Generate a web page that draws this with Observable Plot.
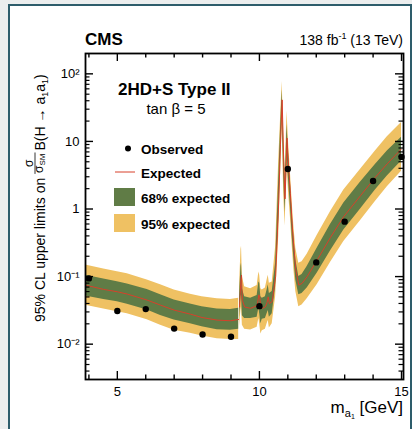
<!DOCTYPE html>
<html><head><meta charset="utf-8">
<script src="https://cdn.jsdelivr.net/npm/d3@7"></script>
<script src="https://cdn.jsdelivr.net/npm/@observablehq/plot@0.6"></script>
<style>
html,body{margin:0;padding:0;background:#eceeee;width:412px;height:429px;overflow:hidden}
#frame{position:absolute;left:8px;top:4px;width:400px;height:440px;border:2px solid #2e5d6b;background:#fff;}
#chart{position:absolute;left:0;top:0}
</style></head><body><div id="frame"></div><div id="chart"></div>
<script>
// ---- data ----
const mass = [3.88,4.52,5.0,5.35,6.05,6.52,7.0,7.57,7.98,8.51,8.98,9.27, NaN,
  9.30,9.35,9.37,9.40,9.48,9.69,9.92,9.98,10.01,10.05,10.10,10.21,10.27,10.31,10.35,10.45,
  10.57,10.68,10.74,10.80,10.85,10.90,10.94,10.97,11.03,11.09,11.15,11.21,11.28,11.385,11.50,11.68,
  12.03,12.50,12.97,13.56,14.08,14.50,15.0];
const expected = [0.0748,0.0646,0.0596,0.0551,0.0449,0.0378,0.0319,0.0278,0.0248,0.0227,0.0222,0.0232, NaN,
  0.0355,0.0891,0.105,0.0447,0.0355,0.0339,0.0372,0.0537,0.0501,0.0355,0.0339,0.0355,0.0417,0.0501,0.0398,0.0427,
  0.100,1.35,8.91,41.2,6.31,1.41,3.98,11.2,3.98,1.70,0.617,0.275,0.126,0.0748,0.0794,0.100,
  0.175,0.380,0.776,1.58,2.95,4.68,7.76];
const lo68 = [0.0514,0.0457,0.0424,0.0389,0.0319,0.0266,0.0227,0.0200,0.0181,0.0164,0.0161,0.0166, NaN,
  0.0251,0.0501,0.0537,0.0263,0.0240,0.0240,0.0251,0.0339,0.0282,0.0200,0.0234,0.0240,0.0282,0.0316,0.0251,0.0282,
  0.0708,0.708,5.01,28.2,3.55,0.891,2.51,7.08,2.51,1.12,0.417,0.191,0.0891,0.0537,0.0562,0.0676,
  0.112,0.240,0.490,1.00,1.91,3.09,5.13];
const hi68 = [0.105,0.0923,0.0838,0.0776,0.0646,0.0537,0.0449,0.0394,0.0357,0.0331,0.0327,0.0339, NaN,
  0.0501,0.141,0.158,0.0661,0.0501,0.0479,0.0525,0.0832,0.0794,0.0501,0.0479,0.0501,0.0631,0.0759,0.0562,0.0603,
  0.158,2.82,14.1,57.5,10.0,2.24,6.31,17.8,6.03,2.51,0.891,0.398,0.178,0.100,0.107,0.141,
  0.263,0.589,1.23,2.51,4.57,7.24,11.5];
const lo95 = [0.0378,0.0331,0.0302,0.0282,0.0229,0.0191,0.0161,0.0145,0.0132,0.0120,0.0117,0.0117, NaN,
  0.0182,0.0316,0.0355,0.0191,0.0166,0.0162,0.0178,0.0240,0.0200,0.0141,0.0158,0.0166,0.0200,0.0224,0.0174,0.0200,
  0.0501,0.398,2.82,17.8,2.00,0.562,1.58,4.47,1.66,0.759,0.302,0.132,0.0603,0.0357,0.0380,0.0468,
  0.0759,0.162,0.331,0.676,1.29,2.14,3.63];
const hi95 = [0.148,0.130,0.118,0.110,0.0887,0.0759,0.0631,0.0550,0.0501,0.0468,0.0459,0.0479, NaN,
  0.0708,0.251,0.282,0.100,0.0708,0.0661,0.0741,0.117,0.105,0.0661,0.0631,0.0676,0.0891,0.105,0.0794,0.0832,
  0.275,5.37,20.0,76.9,15.8,3.55,10.0,28.2,8.91,3.55,1.32,0.575,0.263,0.157,0.166,0.214,
  0.407,0.912,1.91,3.89,7.24,11.7,19.1];
const obsMass = [4,5,6,7,8,9,10,11,12,13,14,15];
const observed = [0.094,0.031,0.033,0.017,0.0139,0.0129,0.0365,3.9,0.162,0.65,2.6,5.9];

const xMajor = [5,10,15];
const xMinor = [4,6,7,8,9,11,12,13,14];
const yMajor = [0.01,0.1,1,10,100];
const yTickLabels = ["10\u207B\u00B2","10\u207B\u00B9","1","10","10\u00B2"];
const yMinor = [0.004,0.005,0.006,0.007,0.008,0.009,0.02,0.03,0.04,0.05,0.06,0.07,0.08,0.09,
  0.2,0.3,0.4,0.5,0.6,0.7,0.8,0.9,2,3,4,5,6,7,8,9,20,30,40,50,60,70,80,90];

const legendLabels = ["Observed","Expected","68% expected","95% expected"];
const YELLOW = "#efc163", GREEN = "#607c46", RED = "#d8402a";

// ---- build ----
const band = mass.map((m,i)=>({m, exp:expected[i], lo68:lo68[i], hi68:hi68[i], lo95:lo95[i], hi95:hi95[i]}));
const obs = obsMass.map((m,i)=>({m, v:observed[i]}));

const W=412, H=429, mT=53, mB=50, mL=85, mR=9;
const PW=W-mL-mR, PH=H-mT-mB;
const font = "'Liberation Sans', Arial, Helvetica, sans-serif";

const svgNode = Plot.plot({
  width: W, height: H, marginTop: mT, marginBottom: mB, marginLeft: mL, marginRight: mR,
  style: {background:"transparent", fontFamily: font, fontSize:"13px", color:"black", overflow:"visible"},
  x: {domain:[3.88,15.07]},
  y: {type:"log", domain:[0.003,200]},
  marks: [
    Plot.areaY(band, {x:"m", y1:"lo95", y2:"hi95", fill:YELLOW}),
    Plot.areaY(band, {x:"m", y1:"lo68", y2:"hi68", fill:GREEN}),
    Plot.lineY(band, {x:"m", y:"exp", stroke:RED, strokeWidth:1}),
    Plot.dot(obs, {x:"m", y:"v", r:3.2, fill:"black"}),
    Plot.tickX(xMajor, {x:d=>d, insetTop:PH-8, stroke:"black", strokeWidth:1.4}),
    Plot.tickX(xMajor, {x:d=>d, insetBottom:PH-8, stroke:"black", strokeWidth:1.4}),
    Plot.tickX(xMinor, {x:d=>d, insetTop:PH-4.5, stroke:"black", strokeWidth:1.4}),
    Plot.tickX(xMinor, {x:d=>d, insetBottom:PH-4.5, stroke:"black", strokeWidth:1.4}),
    Plot.tickY(yMajor, {y:d=>d, insetRight:PW-8, stroke:"black", strokeWidth:1.4}),
    Plot.tickY(yMajor, {y:d=>d, insetLeft:PW-8, stroke:"black", strokeWidth:1.4}),
    Plot.tickY(yMinor, {y:d=>d, insetRight:PW-4.5, stroke:"black", strokeWidth:1.2}),
    Plot.tickY(yMinor, {y:d=>d, insetLeft:PW-4.5, stroke:"black", strokeWidth:1.2}),
    Plot.frame({stroke:"black", strokeWidth:1.8}),
    Plot.axisX({ticks:xMajor, tickSize:0, tickPadding:7, tickFormat:d=>String(d), label:null, fontSize:13}),
    Plot.axisY({ticks:yMajor, tickSize:0, tickPadding:6, tickFormat:d=>yTickLabels[yMajor.indexOf(d)], label:null, fontSize:13})
  ]
});
document.getElementById("chart").appendChild(svgNode);

const svg = d3.select(svgNode);
function txt(x,y,s,opts={}){
  const t = svg.append("text").attr("x",x).attr("y",y).attr("font-family",font)
    .attr("font-size",opts.size||13).attr("fill","black").attr("text-anchor",opts.anchor||"start").text(s);
  if(opts.bold) t.attr("font-weight","bold");
  return t;
}
// header
txt(85,45,"CMS",{size:17,bold:true});
const lumi = txt(403,45,"138 fb",{size:14,anchor:"end"});
lumi.append("tspan").attr("dy",-6).attr("font-size",9).text("-1");
lumi.append("tspan").attr("dy",6).attr("font-size",14).text(" (13 TeV)");
// model text
txt(118,95,"2HD+S Type II",{size:17,bold:true});
txt(176,114,"tan \u03B2 = 5",{size:15,anchor:"middle"});
// legend
svg.append("circle").attr("cx",128).attr("cy",148.5).attr("r",3).attr("fill","black");
txt(141,153.5,legendLabels[0],{size:13.5,bold:true});
svg.append("line").attr("x1",115).attr("x2",135).attr("y1",172).attr("y2",172).attr("stroke",RED).attr("stroke-width",1);
txt(141,177.5,legendLabels[1],{size:13.5,bold:true});
svg.append("rect").attr("x",114).attr("y",188).attr("width",21).attr("height",18).attr("fill",GREEN);
txt(141,203,legendLabels[2],{size:13.5,bold:true});
svg.append("rect").attr("x",114).attr("y",214).attr("width",21).attr("height",18).attr("fill",YELLOW);
txt(141,229,legendLabels[3],{size:13.5,bold:true});
// x label
const xl = txt(403,413,"m",{size:17,anchor:"end"});
xl.append("tspan").attr("dy",4).attr("font-size",11).text("a");
xl.append("tspan").attr("dy",2).attr("font-size",7).text("1");
xl.append("tspan").attr("dy",-6).attr("font-size",17).text(" [GeV]");
// y label (rotated)
const g = svg.append("g").attr("transform","translate(45,0) rotate(-90)");
function gtxt(x,y,s,size){ return g.append("text").attr("x",x).attr("y",y).attr("font-family",font).attr("text-anchor","start").attr("font-size",size).attr("fill","black").text(s); }
const yStart = -322;
const p1 = gtxt(yStart,0,"95% CL upper limits on ",14);
let cx = yStart + p1.node().getComputedTextLength();
const num = gtxt(0,-12,"\u03C3",12);
const den = gtxt(0,-2,"\u03C3",12);
den.append("tspan").attr("dy",2).attr("font-size",8).text("SM");
const wNum = num.node().getComputedTextLength(), wDen = den.node().getComputedTextLength();
const wF = Math.max(wNum,wDen)+2;
num.attr("x", cx + (wF-wNum)/2);
den.attr("x", cx + (wF-wDen)/2);
g.append("line").attr("x1",cx).attr("x2",cx+wF).attr("y1",-10).attr("y2",-10).attr("stroke","black").attr("stroke-width",0.8);
cx += wF + 2;
const p3 = gtxt(cx,0,"B(H \u2192 a",14);
p3.append("tspan").attr("dy",3).attr("font-size",9).text("1");
p3.append("tspan").attr("dy",-3).attr("font-size",14).text("a");
p3.append("tspan").attr("dy",3).attr("font-size",9).text("1");
p3.append("tspan").attr("dy",-3).attr("font-size",14).text(")");
</script></body></html>
